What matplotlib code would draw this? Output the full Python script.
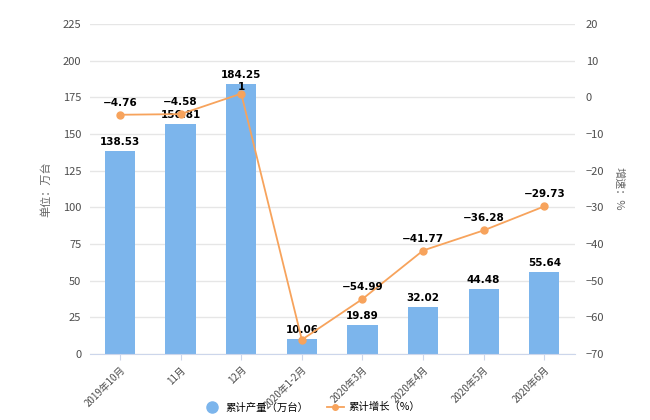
import numpy as np
import matplotlib
matplotlib.use("Agg")
import matplotlib.pyplot as plt
from matplotlib.lines import Line2D

plt.rcParams['font.family'] = ['Noto Sans CJK SC', 'DejaVu Sans']

categories = ["2019年10月", "11月", "12月", "2020年1-2月", "2020年3月",
              "2020年4月", "2020年5月", "2020年6月"]
output = [138.53, 156.81, 184.25, 10.06, 19.89, 32.02, 44.48, 55.64]
growth = [-4.76, -4.58, 1, -66.1, -54.99, -41.77, -36.28, -29.73]
growth_labels = ["-4.76", "-4.58", "1", None, "-54.99", "-41.77", "-36.28", "-29.73"]

bar_color = "#7cb5ec"
line_color = "#f7a35c"
tick_color = "#4d4d4d"

fig = plt.figure(figsize=(6.5, 4.2), dpi=100)
ax = fig.add_axes([0.138, 0.157, 0.746, 0.786])
ax2 = ax.twinx()

x = np.arange(len(categories))
ax.bar(x, output, width=0.5, color=bar_color, zorder=2)
ax.set_xlim(-0.5, len(categories) - 0.5)
ax.set_ylim(0, 225)
ax.set_yticks(np.arange(0, 226, 25))
ax.grid(axis='y', color="#e6e6e6", linewidth=1, zorder=0)
ax.set_axisbelow(True)

ax2.plot(x, growth, color=line_color, linewidth=1.3, marker='o',
         markersize=5, zorder=3)
ax2.set_ylim(-70, 20)
ax2.set_yticks(np.arange(-70, 21, 10))

for a in (ax, ax2):
    for s in a.spines.values():
        s.set_visible(False)
    a.tick_params(axis='y', length=0, labelsize=8, colors=tick_color)
ax.spines['bottom'].set_visible(True)
ax.spines['bottom'].set_color("#ccd6eb")
ax.tick_params(axis='x', length=4, color="#ccd6eb", labelsize=7,
               labelcolor=tick_color)
ax.set_xticks(x)
ax.set_xticklabels(categories, rotation=45, ha='right', rotation_mode='anchor')
ax.tick_params(axis='y', pad=6)
ax2.tick_params(axis='y', pad=8)

for xi, v in zip(x, output):
    ax.annotate("{:.2f}".format(v), (xi, v), xytext=(0, 3),
                textcoords='offset points', ha='center', va='bottom',
                fontsize=7.5, fontweight='bold', color="#000000",
                family=['DejaVu Sans'])
for xi, v, lab in zip(x, growth, growth_labels):
    if lab is None:
        continue
    # the "1" label sits tight on its point, just under the bar label
    off = 1 if lab == "1" else 5
    ax2.annotate(lab.replace("-", "\u2212"), (xi, v), xytext=(0, off),
                 textcoords='offset points', ha='center', va='bottom',
                 fontsize=7.5, fontweight='bold', color="#000000",
                 family=['DejaVu Sans'])

ax.set_ylabel("单位：万台", fontsize=8, color="#666666", labelpad=8)
ax2.set_ylabel("增速：%", fontsize=8, color="#666666", rotation=270,
               labelpad=14)

handles = [
    Line2D([], [], linestyle='none', marker='o', markersize=8,
           color=bar_color),
    Line2D([], [], color=line_color, marker='o', markersize=4,
           linewidth=1.3),
]
fig.legend(handles, ["累计产量（万台）", "累计增长（%）"],
           loc='center', bbox_to_anchor=(0.48, 0.03), ncol=2,
           frameon=False, fontsize=7.5, handlelength=1.6,
           handletextpad=0.5, columnspacing=1.8)

fig.savefig("out.png", dpi=100, facecolor='white')
